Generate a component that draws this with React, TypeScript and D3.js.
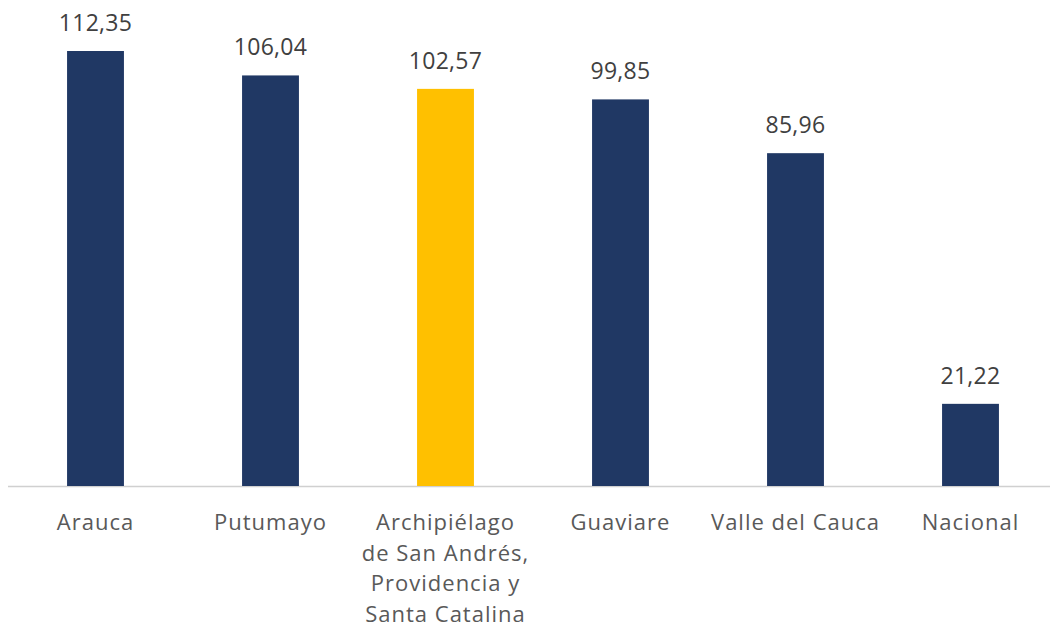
import React from "react";
import * as d3 from "d3";

const categories: string[][] = [
  ["Arauca"],
  ["Putumayo"],
  ["Archipiélago", "de San Andrés,", "Providencia y", "Santa Catalina"],
  ["Guaviare"],
  ["Valle del Cauca"],
  ["Nacional"],
];
const values = [112.35, 106.04, 102.57, 99.85, 85.96, 21.22];
const highlight = [false, false, true, false, false, false];

const W = 1050;
const H = 636;

export default function App() {
  const x = d3
    .scaleBand<number>()
    .domain(d3.range(values.length))
    .range([8, 1058])
    .paddingInner(0.675)
    .paddingOuter(0.3375);
  const y = d3.scaleLinear().domain([0, 112.35]).range([486, 51]);
  const fmt = (v: number) => v.toFixed(2).replace(".", ",");
  const font = "'Open Sans', 'Noto Sans', sans-serif";
  return (
    <svg
      width={W}
      height={H}
      style={{ position: "absolute", left: 0, top: 0, background: "#fff" }}
    >
      <line x1={8} x2={W} y1={486.5} y2={486.5} stroke="#d0d0d0" strokeWidth={1.5} />
      {values.map((v, i) => {
        const bx = x(i)!;
        const cx = bx + x.bandwidth() / 2;
        return (
          <g key={i}>
            <rect
              x={bx}
              y={y(v)}
              width={x.bandwidth()}
              height={y(0) - y(v)}
              fill={highlight[i] ? "#FFC000" : "#203864"}
            />
            <text
              x={cx}
              y={y(v) - 20}
              textAnchor="middle"
              fontFamily={font}
              fontSize={23}
              letterSpacing={0.3}
              fill="#404040"
            >
              {fmt(v)}
            </text>
            {categories[i].map((line, j) => (
              <text
                key={j}
                x={cx}
                y={530 + j * 30.5}
                textAnchor="middle"
                fontFamily={font}
                fontSize={22}
                letterSpacing={1}
                fill="#595959"
              >
                {line}
              </text>
            ))}
          </g>
        );
      })}
    </svg>
  );
}
